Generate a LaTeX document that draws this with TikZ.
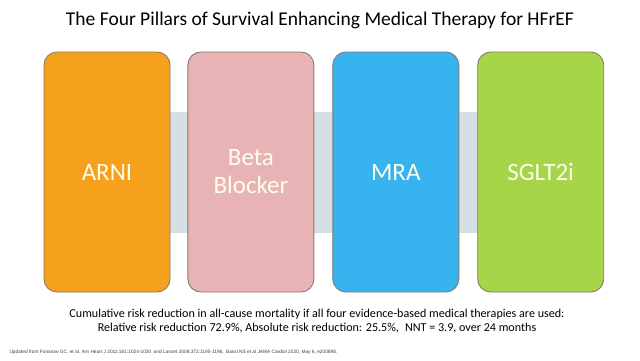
\documentclass[tikz,border=0pt]{standalone}
\usepackage{fontspec}
\setmainfont{Carlito}
\newfontfamily\notefont{Liberation Sans}
\usetikzlibrary{positioning}

\definecolor{bandgray}{HTML}{D6E0E4}
\definecolor{arniorange}{HTML}{F6A11E}
\definecolor{betapink}{HTML}{E8B3B4}
\definecolor{mrablue}{HTML}{37B4EF}
\definecolor{sgltgreen}{HTML}{A6D54A}
\definecolor{edgegray}{HTML}{857B70}
\definecolor{labelwhite}{HTML}{FFFDEB}

\tikzset{
  pillar/.style={draw=edgegray, line width=0.9pt, rounded corners=13pt,
    minimum width=126pt, minimum height=240pt, inner sep=0pt,
    text=labelwhite, font=\fontsize{25}{28}\selectfont, align=center},
  band/.style={fill=bandgray, minimum width=550pt, minimum height=121pt, inner sep=0pt},
}

\begin{document}
\begin{tikzpicture}[x=1pt,y=-1pt]
    \useasboundingbox [fill=white] (0,0) rectangle (640,360);

    % title
    \node (title) at (320,20) {\fontsize{19.5}{23}\selectfont The Four Pillars of Survival Enhancing Medical Therapy for HFrEF};

    % band behind the pillars
    \node [band] (band) at (322,172.5) {};

    % the four pillars
    \node [pillar, fill=arniorange] (arni) at (107,172) {ARNI};
    \node [pillar, fill=betapink, right=17pt of arni] (beta) {Beta\\Blocker};
    \node [pillar, fill=mrablue, right=18pt of beta] (mra) {MRA};
    \node [pillar, fill=sgltgreen, right=18pt of mra] (sglt) {SGLT2i};

    % summary below
    \node [align=center, font=\fontsize{12.1}{14}\selectfont] (summary) at (317,321.5)
      {Cumulative risk reduction in all-cause mortality if all four evidence-based medical therapies are used:\\
       Relative risk reduction 72.9\%, Absolute risk reduction: 25.5\%,\enspace NNT = 3.9, over 24 months};

    % reference line
    \node [anchor=west, text=black!75, font=\notefont\fontsize{4.8}{6}\selectfont] (refs) at (6,352)
      {Updated from Fonarow GC. et al. Am Heart J 2011;161:1024-1030\enspace and Lancet 2008;372:1195-1196;\enspace Bassi NS et al JAMA Cardiol 2020, May 6, e200898.};
  \end{tikzpicture}
\end{document}
